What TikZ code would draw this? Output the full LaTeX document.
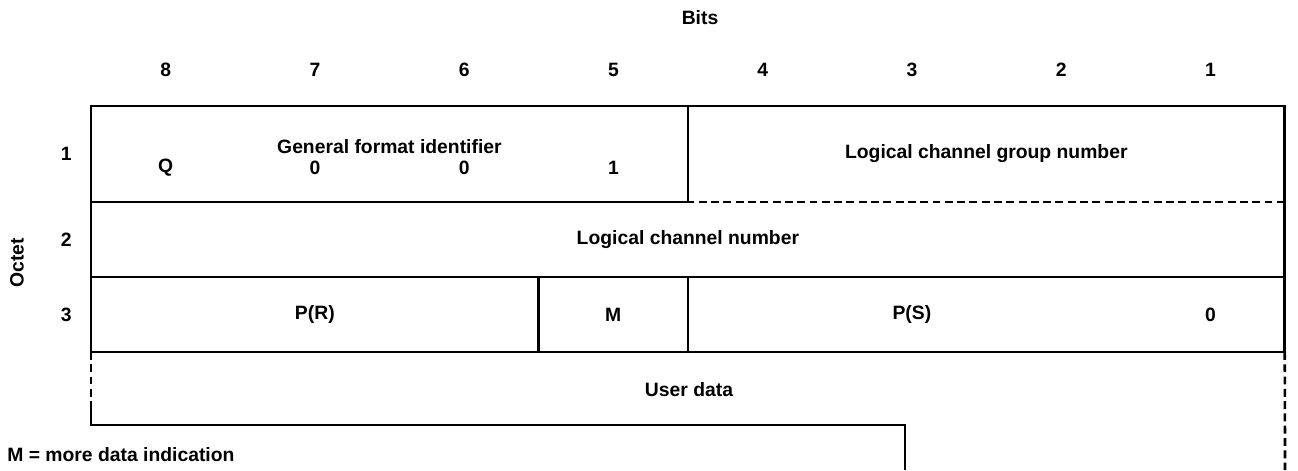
\documentclass[tikz,border=0pt]{standalone}
\usepackage{fontspec}
\setmainfont{Liberation Sans}
\usetikzlibrary{positioning}

\begin{document}
\begin{tikzpicture}[x=0.02cm,y=-0.02cm]
    \tikzset{field/.style={
        draw, line width=1.5pt, inner sep=0pt, outer sep=0pt, minimum height=1.5cm,
        font=\bfseries\fontsize{11}{13}\selectfont
      },
      txt/.style={inner sep=0pt, font=\bfseries\fontsize{11}{13}\selectfont},
      frame/.style={line width=1.5pt},
      gap/.style={frame, dash pattern=on 4.5pt off 2.5pt}
    }
    \useasboundingbox (0,0) rectangle (1298,470);

    \node[txt] (bits) at (700,18) {Bits};
    \foreach \b in {1,...,8}
      \node[txt] (bit\b) at ({91+(8.5-\b)*149.25},70) {\b};

    \node[field, minimum width=11.94cm, minimum height=1.92cm, anchor=north west] (GFI) at (91,106) {};
    \node[field, draw=none, minimum width=11.94cm, minimum height=1.92cm, right=0pt of GFI] (LCGN) {Logical channel group number};
    \node[field, draw=none, minimum width=23.88cm, below=0pt of GFI.south west, anchor=north west] (LCN) {Logical channel number};
    \node[field, minimum width=8.955cm, below=0pt of LCN.south west, anchor=north west] (PR) {P(R)};
    \node[field, minimum width=2.985cm, right=0pt of PR] (MB) {M};
    \node[field, minimum width=11.94cm, right=0pt of MB] (PS) {};

    \node[txt, yshift=0.14cm] (gfitxt) at (GFI) {General format identifier};
    \foreach \b/\v in {8/Q,7/0,6/0,5/1}
      \node[txt, yshift=-0.28cm] (gfi\b) at (bit\b |- GFI) {\v};
    \node[txt] (pstxt) at (bit3 |- PS) {P(S)};
    \node[txt] (ps1) at (bit1 |- PS) {0};

    \draw[frame] (GFI.north east) -| (LCGN.south east);
    \draw[gap] (LCGN.south east) -- (LCGN.south west);
    \draw[frame] (LCN.north west) |- (LCN.south east) -- (LCN.north east);

    \coordinate (uda) at (91,405);
    \coordinate (udsw) at (91,425);
    \coordinate (udcut) at (905,470);
    \coordinate (udse) at (1285,470);
    \draw[gap] (PR.south west) -- (uda);
    \draw[frame] (uda) -- (udsw) -| (udcut);
    \draw[gap] (PS.south east) -- (udse);
    \node[txt] (UD) at (689,390) {User data};

    \node[txt, left=0.38cm of GFI.west] (oct1) {1};
    \node[txt, left=0.38cm of LCN.west] (oct2) {2};
    \node[txt, left=0.38cm of PR.west] (oct3) {3};
    \node[txt, rotate=90] (octet) at (17,263) {Octet};

    \node[txt, anchor=west] (key) at (7,455) {M = more data indication};
\end{tikzpicture}
\end{document}
